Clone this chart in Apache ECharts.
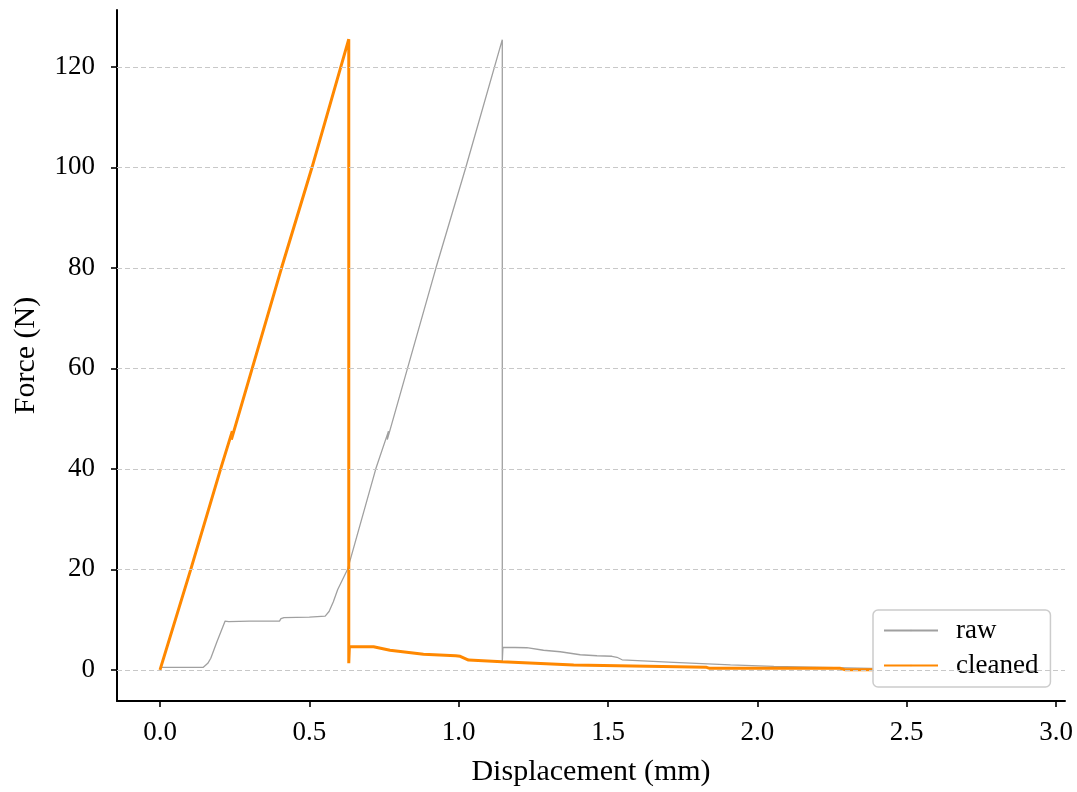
<!DOCTYPE html>
<html>
<head>
<meta charset="utf-8">
<script src="https://cdn.jsdelivr.net/npm/echarts@6/dist/echarts.min.js"></script>
<style>
html,body{margin:0;padding:0;background:#fff;}
#chart{width:1077px;height:792px;}
</style>
</head>
<body>
<div id="chart"></div>
<script>
// Tick values
const xTicks = [0.0, 0.5, 1.0, 1.5, 2.0, 2.5, 3.0];
const yTicks = [0, 20, 40, 60, 80, 100, 120];

// raw series: [displacement (mm), force (N)]
const rawData = [
  [0.000, 0.5], [0.145, 0.5], [0.160, 1.3], [0.170, 2.3], [0.190, 5.5], [0.218, 9.7],
  [0.230, 9.6], [0.300, 9.7], [0.400, 9.7], [0.405, 10.2], [0.415, 10.4], [0.500, 10.5],
  [0.553, 10.7], [0.566, 11.6], [0.580, 13.5], [0.595, 16.0], [0.628, 20.0], [0.7225, 40.0],
  [0.765, 47.5], [0.761, 45.8], [0.924, 80.0], [1.024, 100.0], [1.146, 125.4],
  [1.146, 1.6], [1.148, 4.5], [1.228, 4.4], [1.284, 3.9], [1.340, 3.6], [1.407, 3.0],
  [1.463, 2.8], [1.513, 2.7], [1.530, 2.5], [1.547, 2.0], [1.720, 1.5], [1.910, 1.0],
  [2.055, 0.7], [2.380, 0.3], [2.790, 0.3], [2.810, 0.0], [2.900, 0.0]
];

// cleaned series
const cleanedData = [
  [0.000, 0.0], [0.103, 20.0], [0.203, 40.0], [0.242, 47.5], [0.239, 45.8],
  [0.407, 80.0], [0.509, 100.0], [0.632, 125.5], [0.632, 1.3], [0.634, 4.6],
  [0.715, 4.6], [0.770, 3.9], [0.882, 3.1], [0.990, 2.8], [1.005, 2.7], [1.033, 1.95],
  [1.145, 1.6], [1.385, 0.95], [1.830, 0.5], [1.840, 0.3], [2.278, 0.3], [2.295, 0.0],
  [2.390, 0.0]
];

const FONT = 'Liberation Serif';
const chart = echarts.init(document.getElementById('chart'), null, {renderer: 'canvas'});
chart.setOption({
  animation: false,
  backgroundColor: '#ffffff',
  textStyle: {fontFamily: FONT, color: '#000'},
  grid: {left: 117, right: 12, top: 10, bottom: 91, containLabel: false},
  xAxis: {
    type: 'value',
    min: -0.144, max: 3.03,
    name: 'Displacement (mm)',
    nameLocation: 'middle',
    nameGap: 56,
    nameTextStyle: {fontFamily: FONT, fontSize: 30, color: '#000'},
    axisLine: {show: true, onZero: false, lineStyle: {color: '#000', width: 2}},
    axisTick: {show: true, customValues: xTicks, length: 6, lineStyle: {color: '#000', width: 1.6}},
    axisLabel: {customValues: xTicks, margin: 18, fontFamily: FONT, fontSize: 27, color: '#000',
      formatter: v => Number(v).toFixed(1)},
    splitLine: {show: false}
  },
  yAxis: {
    type: 'value',
    min: -6.2, max: 131.3,
    name: 'Force (N)',
    nameLocation: 'middle',
    nameGap: 76,
    nameTextStyle: {fontFamily: FONT, fontSize: 30, color: '#000'},
    axisLine: {show: true, onZero: false, lineStyle: {color: '#000', width: 2}},
    axisTick: {show: true, customValues: yTicks, length: 6, lineStyle: {color: '#000', width: 1.6}},
    axisLabel: {customValues: yTicks, margin: 22, fontFamily: FONT, fontSize: 27, color: '#000',
      formatter: v => String(Math.round(v))},
    splitLine: {show: false}
  },
  legend: {
    data: ['raw', 'cleaned'],
    orient: 'vertical',
    left: 873, top: 610,
    padding: [7, 12, 8, 10],
    itemGap: 8,
    itemWidth: 54, itemHeight: 2,
    backgroundColor: '#ffffff',
    borderColor: '#cccccc', borderWidth: 1.5, borderRadius: 5,
    textStyle: {fontFamily: FONT, fontSize: 27, color: '#000', padding: [0, 0, 0, 13]}
  },
  series: [
    {
      name: 'grid', type: 'line', data: [], z: 1, silent: true,
      markLine: {
        silent: true, symbol: ['none', 'none'], label: {show: false},
        lineStyle: {color: '#c8c8c8', width: 1, type: [5, 3]},
        emphasis: {disabled: true},
        data: yTicks.map(v => ({yAxis: v}))
      }
    },
    {
      name: 'raw', type: 'line', data: rawData, z: 2,
      symbol: 'none', showSymbol: false,
      lineStyle: {color: '#a0a0a0', width: 1.3},
      itemStyle: {color: '#a0a0a0'}
    },
    {
      name: 'cleaned', type: 'line', data: cleanedData, z: 3,
      symbol: 'none', showSymbol: false,
      lineStyle: {color: '#ff8800', width: 3},
      itemStyle: {color: '#ff8800'}
    }
  ]
});
</script>
</body>
</html>
